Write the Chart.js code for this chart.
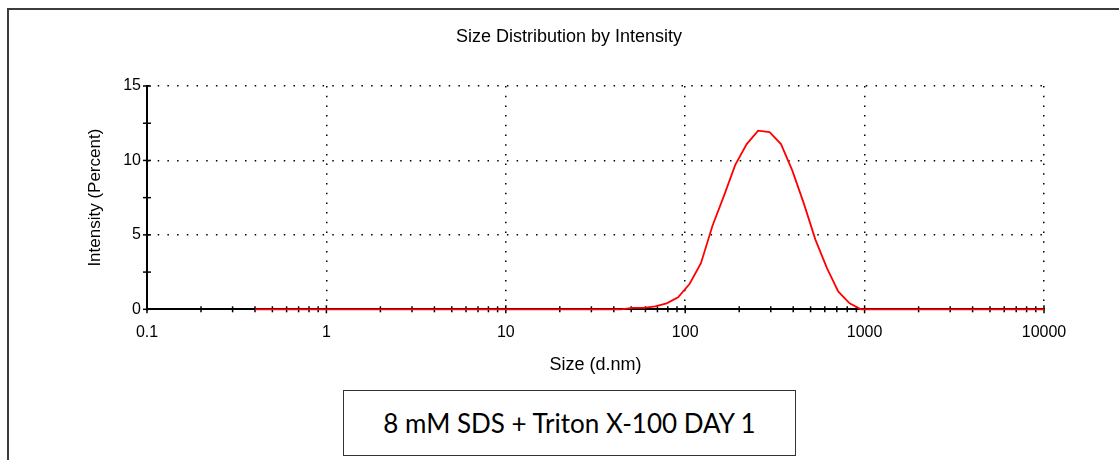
<!DOCTYPE html>
<html><head><meta charset="utf-8">
<script src="https://cdn.jsdelivr.net/npm/chart.js@4"></script>
<style>
html,body{margin:0;padding:0;background:#fff;}
#wrap{position:relative;width:1119px;height:460px;overflow:hidden;background:#fff;}
#frame{position:absolute;left:7px;top:8px;width:1120px;height:460px;border-top:2px solid #3c3c3c;border-left:2px solid #3c3c3c;}
canvas{position:absolute;left:0;top:0;}
#note{position:absolute;left:343px;top:390px;width:451px;height:64px;border:1px solid #333;display:flex;align-items:center;justify-content:center;font-family:Lato,'Open Sans',sans-serif;font-size:26px;color:#000;background:#fff;}
</style></head>
<body><div id="wrap"><div id="frame"></div><canvas id="c" width="1119" height="460"></canvas><div id="note">8 mM SDS + Triton X-100 DAY 1</div></div>
<script>
const sizes = [0.4, 0.4632, 0.5365, 0.6213, 0.7195, 0.8332, 0.9649, 1.117, 1.294, 1.499,
  1.736, 2.010, 2.328, 2.696, 3.122, 3.615, 4.187, 4.849, 5.615, 6.503,
  7.531, 8.721, 10.10, 11.70, 13.54, 15.69, 18.17, 21.04, 24.36, 28.21,
  32.67, 37.84, 43.82, 50.75, 58.77, 68.06, 78.82, 91.28, 105.7, 122.4,
  141.8, 164.2, 190.1, 220.2, 255.0, 295.3, 342.0, 396.1, 458.7, 531.2,
  615.1, 712.4, 825.0, 955.4, 1106, 1281, 1484, 1718, 1990, 2305,
  2669, 3091, 3580, 4145, 4801, 5560, 6439, 7456, 8635, 10000];
const intensity = [0, 0, 0, 0, 0, 0, 0, 0, 0, 0,
  0, 0, 0, 0, 0, 0, 0, 0, 0, 0,
  0, 0, 0, 0, 0, 0, 0, 0, 0, 0,
  0, 0, 0, 0.1, 0.1, 0.2, 0.4, 0.8, 1.7, 3.1,
  5.6, 7.6, 9.7, 11.1, 12.0, 11.9, 11.1, 9.3, 7.1, 4.7,
  2.8, 1.2, 0.4, 0.0, 0, 0, 0, 0, 0, 0,
  0, 0, 0, 0, 0, 0, 0, 0, 0, 0];
const xDecades = [0.1, 1, 10, 100, 1000, 10000];
const xDecadeLabels = ['0.1', '1', '10', '100', '1000', '10000'];
const xMinorSteps = [2, 3, 4, 5, 6, 7, 8, 9];
const yTickValues = [0, 2.5, 5, 7.5, 10, 12.5, 15];
const yLabelledTicks = [0, 5, 10, 15];
const yGridTicks = [5, 10, 15];
const chartTitle = 'Size Distribution by Intensity';
const xTitle = 'Size (d.nm)';
const yTitle = 'Intensity (Percent)';
const seriesLabel = 'Record 1';

const xTickValues = [];
xDecades.forEach((d, i) => {
  xTickValues.push(d);
  if (i < xDecades.length - 1) xMinorSteps.forEach(m => xTickValues.push(+(d * m).toPrecision(6)));
});

const FONT = "'Liberation Sans', Arial, sans-serif";

const titlePlugin = {
  id: 'fixedTitle',
  afterDraw(chart) {
    const ctx = chart.ctx;
    ctx.save();
    ctx.font = '18px ' + FONT;
    ctx.fillStyle = '#000';
    ctx.textAlign = 'center';
    ctx.textBaseline = 'middle';
    ctx.fillText(chartTitle, 569, 37);
    ctx.restore();
  }
};

const tickMarks = {
  id: 'tickMarks',
  beforeDatasetsDraw(chart) {
    const {ctx, scales: {x, y}} = chart;
    const y0 = y.getPixelForValue(0);
    const x0 = x.getPixelForValue(xDecades[0]);
    ctx.save();
    ctx.strokeStyle = '#000';
    ctx.lineWidth = 1.5;
    x.ticks.forEach(t => {
      const px = x.getPixelForValue(t.value);
      const h = xDecades.includes(t.value) ? 4 : 3;
      ctx.beginPath(); ctx.moveTo(px, y0 - h); ctx.lineTo(px, y0 + h); ctx.stroke();
    });
    y.ticks.forEach(t => {
      const py = y.getPixelForValue(t.value);
      ctx.beginPath(); ctx.moveTo(x0 - 4, py); ctx.lineTo(x0 + 4, py); ctx.stroke();
    });
    ctx.restore();
  }
};

new Chart(document.getElementById('c'), {
  type: 'line',
  data: {
    datasets: [{
      label: seriesLabel,
      data: sizes.map((s, i) => ({x: s, y: intensity[i]})),
      borderColor: '#ff0000',
      borderWidth: 1.8,
      pointRadius: 0,
      tension: 0,
      fill: false,
      clip: false
    }]
  },
  options: {
    responsive: false,
    animation: false,
    devicePixelRatio: 1,
    layout: {padding: {top: 86, right: 75, bottom: 0, left: 0}},
    plugins: {legend: {display: false}, title: {display: false}, tooltip: {enabled: false}},
    scales: {
      x: {
        type: 'logarithmic',
        min: 0.1, max: 10000,
        afterBuildTicks: s => { s.ticks = xTickValues.map(v => ({value: v, major: xDecades.includes(v)})); },
        afterFit: s => { s.height = 150.7; },
        grid: {
          z: -2,
          drawTicks: false,
          lineWidth: 1.5,
          color: c => (c.tick && xDecades.includes(c.tick.value) && c.tick.value !== xDecades[0]) ? '#000' : 'transparent'
        },
        border: {display: true, z: -1, color: '#000', width: 2, dash: [1.5, 8.2]},
        ticks: {
          autoSkip: false, maxRotation: 0, minRotation: 0, padding: 14, color: '#000',
          font: {family: FONT, size: 16},
          callback: v => { const i = xDecades.indexOf(v); return i >= 0 ? xDecadeLabels[i] : ''; }
        },
        title: {display: true, text: xTitle, color: '#000', font: {family: FONT, size: 18}, padding: {top: 0, bottom: 84}}
      },
      y: {
        type: 'linear',
        min: 0, max: 15,
        afterBuildTicks: s => { s.ticks = yTickValues.map(v => ({value: v})); },
        afterFit: s => { s.width = 147; },
        grid: {
          z: -2,
          drawTicks: false,
          lineWidth: 1.5,
          color: c => (c.tick && yGridTicks.includes(c.tick.value)) ? '#000' : 'transparent'
        },
        border: {display: true, z: -1, color: '#000', width: 2, dash: [1.5, 8.2]},
        ticks: {
          autoSkip: false, padding: 6, color: '#000',
          font: {family: FONT, size: 16},
          callback: v => yLabelledTicks.includes(v) ? String(v) : ''
        },
        title: {display: true, text: yTitle, color: '#000', font: {family: FONT, size: 17}, padding: {top: 85, bottom: 0}}
      }
    }
  },
  plugins: [titlePlugin, tickMarks]
});
</script>
</body></html>
